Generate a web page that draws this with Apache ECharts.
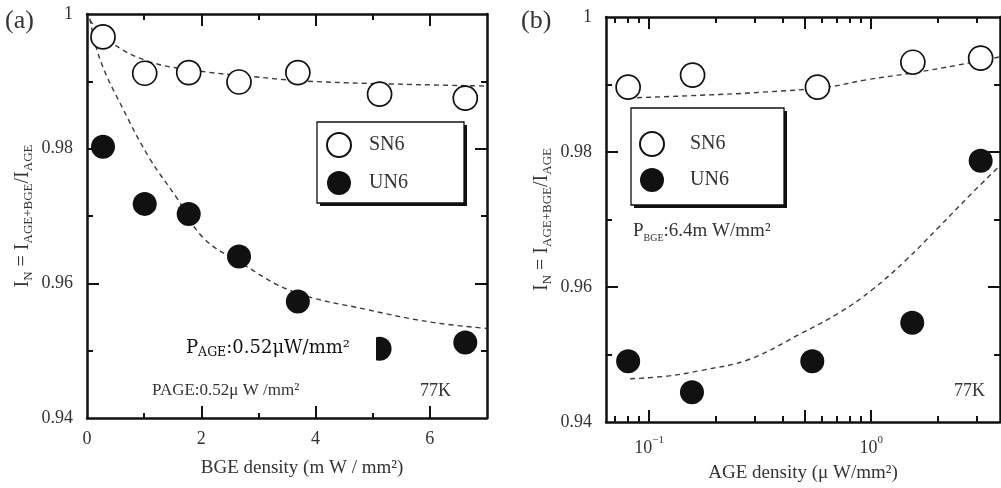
<!DOCTYPE html>
<html>
<head>
<meta charset="utf-8">
<script src="https://cdn.jsdelivr.net/npm/echarts@6/dist/echarts.min.js"></script>
<style>
html, body { margin: 0; padding: 0; background: #fff; }
#chart { width: 1001px; height: 488px; }
</style>
</head>
<body>
<div id="chart"></div>
<script>
// panel (a): I_N against BGE density
const bgeDensity = [0.28, 1.01, 1.78, 2.66, 3.69, 5.12, 6.62];
const sn6A = [0.9966, 0.9912, 0.9913, 0.9899, 0.9913, 0.9881, 0.9875];
const un6A = [0.9803, 0.9718, 0.9703, 0.9640, 0.9573, 0.9503, 0.9512];
// dashed fit curves
const fitSn6AX = [0.05, 0.4, 1.1, 2.0, 2.9, 3.7, 4.9, 7.0];
const fitSn6AY = [0.9991, 0.9959, 0.9929, 0.9915, 0.9907, 0.9901, 0.9897, 0.9893];
const fitUn6AX = [0.05, 0.23, 0.63, 1.1, 1.57, 2.03, 2.66, 3.6, 4.9, 6.05, 7.0];
const fitUn6AY = [0.9993, 0.9932, 0.9859, 0.9785, 0.9727, 0.9668, 0.9632, 0.9588, 0.9561, 0.9542, 0.9533];

// panel (b): I_N against AGE density (log axis)
const ageSn6 = [0.0805, 0.157, 0.573, 1.54, 3.11];
const sn6B = [0.9896, 0.9914, 0.9896, 0.9933, 0.9939];
const ageUn6 = [0.0805, 0.156, 0.543, 1.53, 3.11];
const un6B = [0.9490, 0.9444, 0.9490, 0.9547, 0.9787];
const fitSn6BX = [0.0805, 0.1693, 0.338, 0.628, 0.951, 1.53, 2.48, 3.8];
const fitSn6BY = [0.9880, 0.9884, 0.9889, 0.9896, 0.9907, 0.9917, 0.9929, 0.9941];
const fitUn6BX = [0.0822, 0.1205, 0.1693, 0.2838, 0.4755, 0.719, 1.01, 1.435, 2.02, 2.84, 3.75];
const fitUn6BY = [0.9464, 0.9468, 0.9476, 0.9493, 0.9530, 0.9562, 0.9596, 0.9640, 0.9689, 0.9739, 0.9778];

// ticks
const yLabels = [0.94, 0.96, 0.98, 1];
const yMajor = [0.96, 0.98];
const yMinor = [0.95, 0.97, 0.99];
const xLabelsA = [0, 2, 4, 6];
const xMajorA = [2, 4, 6];
const xMinorA = [1, 3, 5];
const ageMin = 0.064, ageMax = 3.8;
const xMajorB = [0.1, 0.5, 1];
const xMinorB = [0.07, 0.08, 0.09, 0.2, 0.3, 0.4, 0.6, 0.7, 0.8, 0.9, 2, 3];

const FONT = 'Liberation Serif';
const INK = '#111';
const TXT = '#333';
const lg = v => Math.log10(v);

const pairs = (xs, ys) => xs.map((x, i) => [x, ys[i]]);

function frame(gridIndex, position, min, max, ticks, len, showLine) {
  return {
    gridIndex: gridIndex, type: 'value', position: position, min: min, max: max,
    axisLine: { show: showLine, onZero: false, lineStyle: { color: INK, width: 2.5 } },
    axisTick: { show: true, inside: true, length: len, customValues: ticks, lineStyle: { color: INK, width: 2 } },
    axisLabel: { show: false },
    splitLine: { show: false }
  };
}

const labelFont = { fontFamily: FONT, fontSize: 18, color: TXT };
const yTitle = '{m|I}{s|N}{m| = I}{s|AGE+BGE}{m|/I}{s|AGE}';
const yTitleStyle = {
  rich: {
    m: { fontFamily: FONT, fontSize: 20, color: TXT, lineHeight: 24 },
    s: { fontFamily: FONT, fontSize: 13, color: TXT, lineHeight: 14, verticalAlign: 'bottom' }
  }
};

function yMain(gridIndex, position) {
  const ax = frame(gridIndex, position, 0.94, 1, yMajor, 12, true);
  if (position === 'left') {
    ax.axisLabel = Object.assign({ show: true, customValues: yLabels, margin: 14 }, labelFont);
    ax.name = yTitle;
    ax.nameLocation = 'middle';
    ax.nameGap = 52;
    ax.nameTextStyle = yTitleStyle;
  }
  return ax;
}

const xA = frame(0, 'bottom', 0, 7, xMajorA, 12, true);
xA.axisLabel = Object.assign({ show: true, customValues: xLabelsA, margin: 12 }, labelFont);
xA.name = 'BGE density (m W / mm²)';
xA.nameLocation = 'middle';
xA.nameGap = 41;
xA.nameTextStyle = { fontFamily: FONT, fontSize: 19, color: TXT, padding: [0, 0, 0, 30] };

const xB = frame(1, 'bottom', lg(ageMin), lg(ageMax), xMajorB.map(lg), 12, true);
xB.axisLabel = {
  show: true, customValues: [-1, 0], margin: 13,
  formatter: v => '{b|10}{p|' + (v < -0.5 ? '−1' : '0') + '}',
  rich: {
    b: { fontFamily: FONT, fontSize: 18, color: TXT, lineHeight: 26 },
    p: { fontFamily: FONT, fontSize: 11, color: TXT, lineHeight: 12, verticalAlign: 'top' }
  }
};
xB.name = 'AGE density (μ W/mm²)';
xB.nameLocation = 'middle';
xB.nameGap = 42;
xB.nameTextStyle = { fontFamily: FONT, fontSize: 19, color: TXT };

const chart = echarts.init(document.getElementById('chart'));

const openCircle = { color: '#fff', borderColor: INK, borderWidth: 1.7, opacity: 1 };
const fullCircle = { color: INK, opacity: 1 };
const dashed = { color: '#3a3a3a', width: 1.4, type: [5, 4] };

function scatter(name, xi, yi, data, style) {
  return { name: name, type: 'scatter', xAxisIndex: xi, yAxisIndex: yi, data: data,
    symbol: 'circle', symbolSize: 24, itemStyle: style, z: 5, silent: true };
}
function fit(name, xi, yi, data) {
  return { name: name, type: 'line', xAxisIndex: xi, yAxisIndex: yi, data: data,
    smooth: 0.4, showSymbol: false, lineStyle: dashed, z: 3, silent: true };
}

function legendAt(left, top, padding, gap, textPad) {
  return {
    left: left, top: top, orient: 'vertical', padding: padding, itemGap: gap,
    itemWidth: 40, itemHeight: 24, data: ['SN6', 'UN6'], selectedMode: false,
    textStyle: { fontFamily: FONT, fontSize: 20, color: TXT, padding: [0, 0, 0, textPad] },
    z: 10
  };
}

// legend frame with a solid drop shadow
function legendBox(x, y, w, h) {
  return [
    { type: 'rect', z: 1, shape: { x: x + 3, y: y + 3, width: w, height: h }, style: { fill: INK } },
    { type: 'rect', z: 2, shape: { x: x, y: y, width: w, height: h }, style: { fill: '#fff', stroke: INK, lineWidth: 1.3 } }
  ];
}

let option = {
  animation: false,
  backgroundColor: '#fff',
  grid: [
    { left: 87, top: 14, width: 400, height: 404, outerBoundsMode: 'none' },
    { left: 606, top: 17, width: 394, height: 405, outerBoundsMode: 'none' }
  ],
  xAxis: [
    xA,
    frame(0, 'bottom', 0, 7, xMinorA, 5, false),
    frame(0, 'top', 0, 7, xMajorA, 12, true),
    frame(0, 'top', 0, 7, xMinorA, 6, false),
    { gridIndex: 1, type: 'log', logBase: 10, min: ageMin, max: ageMax, show: false },
    xB,
    frame(1, 'bottom', lg(ageMin), lg(ageMax), xMinorB.map(lg), 6, false),
    frame(1, 'top', lg(ageMin), lg(ageMax), xMajorB.map(lg), 12, true),
    frame(1, 'top', lg(ageMin), lg(ageMax), xMinorB.map(lg), 6, false)
  ],
  yAxis: [
    yMain(0, 'left'),
    frame(0, 'left', 0.94, 1, yMinor, 6, false),
    yMain(0, 'right'),
    frame(0, 'right', 0.94, 1, yMinor, 6, false),
    yMain(1, 'left'),
    frame(1, 'left', 0.94, 1, yMinor, 6, false),
    yMain(1, 'right'),
    frame(1, 'right', 0.94, 1, yMinor, 6, false)
  ],
  legend: [
    legendAt(317, 122, [10, 58, 10, 9], 13, 5),
    legendAt(631, 108, [23, 57, 14, 8], 11, 13)
  ],
  graphic: [
    ...legendBox(317, 122, 147, 81),
    ...legendBox(631, 108, 153, 97),
    { type: 'text', left: 5, top: 8, style: { text: '(a)', font: '26px "Liberation Serif"', fill: TXT } },
    { type: 'text', left: 521, top: 8, style: { text: '(b)', font: '26px "Liberation Serif"', fill: TXT } },
    { type: 'text', left: 152, top: 382, style: { text: 'PAGE:0.52μ W /mm²', font: '17px "Liberation Serif"', fill: TXT } },
    { type: 'text', left: 420, top: 382, style: { text: '77K', font: '18px "Liberation Serif"', fill: TXT } },
    { type: 'text', left: 954, top: 382, style: { text: '77K', font: '18px "Liberation Serif"', fill: TXT } },
    { type: 'text', left: 633, top: 222, style: {
      text: '{b|P}{s|BGE}{b|:6.4m W/mm²}',
      rich: {
        b: { fontFamily: FONT, fontSize: 19, fill: TXT, lineHeight: 24 },
        s: { fontFamily: FONT, fontSize: 10, fill: TXT, lineHeight: 12, verticalAlign: 'bottom' }
      } } },
    { type: 'rect', z: 100, shape: { x: 168, y: 333, width: 208, height: 36 }, style: { fill: '#fff' } },
    { type: 'text', left: 186, top: 339, z: 101, style: {
      text: '{b|P}{s|AGE}{b|:0.52μW/mm²}',
      rich: {
        b: { fontFamily: 'DejaVu Serif', fontSize: 18, fill: '#111', lineHeight: 22 },
        s: { fontFamily: 'DejaVu Serif', fontSize: 12.5, fill: '#111', lineHeight: 20, verticalAlign: 'bottom' }
      } } }
  ],
  series: [
    fit('SN6 fit a', 0, 0, pairs(fitSn6AX, fitSn6AY)),
    fit('UN6 fit a', 0, 0, pairs(fitUn6AX, fitUn6AY)),
    scatter('SN6', 0, 0, pairs(bgeDensity, sn6A), openCircle),
    scatter('UN6', 0, 0, pairs(bgeDensity, un6A), fullCircle),
    fit('SN6 fit b', 4, 4, pairs(fitSn6BX, fitSn6BY)),
    fit('UN6 fit b', 4, 4, pairs(fitUn6BX, fitUn6BY)),
    scatter('SN6', 4, 4, pairs(ageSn6, sn6B), openCircle),
    scatter('UN6', 4, 4, pairs(ageUn6, un6B), fullCircle)
  ]
};

chart.setOption(option);
</script>
</body>
</html>
